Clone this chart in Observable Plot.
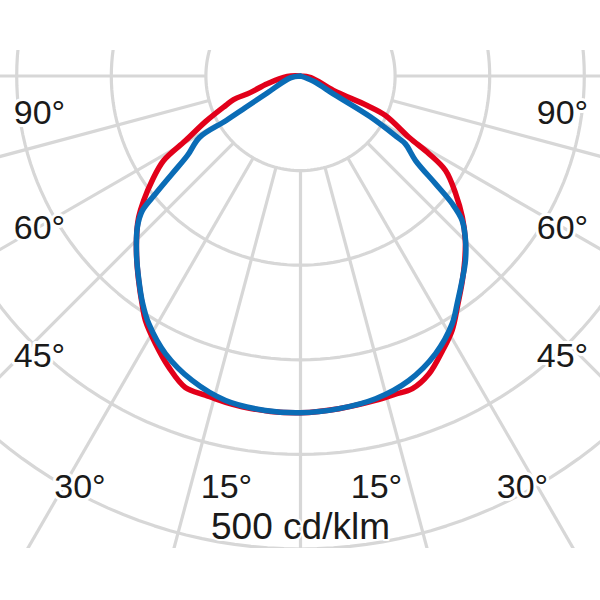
<!DOCTYPE html>
<html><head><meta charset="utf-8">
<script src="https://cdn.jsdelivr.net/npm/d3@7"></script>
<script src="https://cdn.jsdelivr.net/npm/@observablehq/plot@0.6"></script>
<style>html,body{margin:0;padding:0;background:#fff}</style>
</head><body><div id="chart"></div>
<script>
// ---- data ----
const ringValues = [100, 200, 300, 400, 500];            // cd/klm
const spokeAngles = [-90, -75, -60, -45, -30, -15, 0, 15, 30, 45, 60, 75, 90];
const angleLabels = ["90°", "60°", "45°", "30°", "15°", "15°", "30°", "45°", "60°", "90°"];
const unitLabel = "500 cd/klm";

// red curve (C0-C180): gamma (deg, negative = left) and intensity (cd/klm)
const redGamma  = [-180, -88, -77, -71.7, -70.6, -68.5, -64.4, -60.7, -58.3, -54.8, -51.5, -48.9, -46.6, -42.4, -38.3, -34.5, -32.4, -28.4, -24.3, -20.3, -16.6, -12.9, -10, -5.1, 0, 6.6, 13, 16.6, 19.7, 23.3, 27.3, 30.8, 34.4, 38.3, 41.7, 45.1, 48.9, 52.8, 56.9, 58.8, 60.5, 65.1, 66.1, 66.3, 81.5, 180];
const redValues = [0, 14, 36, 56, 75, 85, 111, 139, 170, 192, 212, 227, 238, 257, 276, 295, 306, 322, 338, 351, 352, 354, 355, 356, 356, 354, 352, 351, 351, 343, 327, 313, 294, 276, 261, 246, 227, 206, 183, 159, 132, 99, 77, 38, 11, 0];

// blue curve (C90-C270)
const blueGamma  = [-180, -79.8, -63, -60.2, -59.1, -58.7, -54.9, -52.7, -50.9, -49.6, -47.2, -42.4, -38.3, -34.9, -31.5, -25.9, -19.6, -13, -6, 0, 6.6, 13.1, 19.6, 25.9, 31.5, 34.7, 38.3, 41.8, 45.1, 48.2, 49.9, 51.4, 53.7, 57.1, 57.7, 59.7, 61.3, 68, 180];
const blueValues = [0, 11, 39.5, 67, 92, 125, 146, 170.5, 197.5, 219.6, 235, 257, 275.6, 292, 307, 326.5, 341.6, 352, 355.5, 356, 354, 350.3, 341.6, 326.5, 307, 291.3, 275.6, 261.6, 246.3, 229.2, 209.7, 182.6, 150.9, 132, 121, 85, 41, 15, 0];

// ---- layout ----
const cx = 300, cy = 75.5, k = 0.946;      // pixel centre and px per cd/klm
const clipTop = 50, clipBottom = 548;
const px = p => (p - cx) / k;
const py = p => (p - cy) / k;
const rad = d => d * Math.PI / 180;
const polar = (g, v) => ({x: v * Math.sin(rad(g)), y: v * Math.cos(rad(g))});

const red = redGamma.map((g, i) => polar(g, redValues[i]));
const blue = blueGamma.map((g, i) => polar(g, blueValues[i]));
const rings = ringValues.flatMap(v => d3.range(0, 361, 2).map(a => ({ring: v, ...polar(a, v)})));
const spokes = spokeAngles.map(a => {
  const p1 = polar(a, ringValues[0]), p2 = polar(a, 800);
  return {x1: p1.x, y1: p1.y, x2: p2.x, y2: p2.y};
});
// label anchor points (centre x, baseline y) in pixels
const labelPos = [[39,123],[39,238],[39,366],[79.5,497],[226,497],[376,497],[522,497],[562,366],[562,238],[562,123]];
const labels = angleLabels.map((t, i) => ({t, x: px(labelPos[i][0]), y: py(labelPos[i][1])}));

const grid = "#d7d7d7";
const font = "Liberation Sans";
const chart = Plot.plot({
  width: 600, height: 600,
  marginTop: clipTop, marginBottom: 600 - clipBottom, marginLeft: 0, marginRight: 0,
  x: {domain: [px(0), px(600)], axis: null},
  y: {domain: [py(clipTop), py(clipBottom)], reverse: true, axis: null},
  marks: [
    Plot.line(rings, {x: "x", y: "y", z: "ring", stroke: grid, strokeWidth: 3.2, clip: true}),
    Plot.link(spokes, {x1: "x1", y1: "y1", x2: "x2", y2: "y2", stroke: grid, strokeWidth: 3.2, clip: true}),
    Plot.line(red, {x: "x", y: "y", curve: "catmull-rom", stroke: "#e2001a", strokeWidth: 5.5, strokeLinejoin: "round", strokeLinecap: "round"}),
    Plot.line(blue, {x: "x", y: "y", curve: "catmull-rom", stroke: "#0a6cb6", strokeWidth: 5.5, strokeLinejoin: "round", strokeLinecap: "round"}),
    Plot.text(labels, {x: "x", y: "y", text: "t", fontFamily: font, fontSize: 34, fill: "#1a1a1a", lineAnchor: "bottom",
      stroke: "white", strokeWidth: 6, paintOrder: "stroke", textAnchor: "middle"}),
    Plot.text([unitLabel], {x: px(300), y: py(538), text: d => d, fontFamily: font, fontSize: 37, fill: "#1a1a1a", lineAnchor: "bottom",
      stroke: "white", strokeWidth: 4, paintOrder: "stroke", textAnchor: "middle"})
  ]
});
document.getElementById("chart").appendChild(chart);
</script>
</body></html>
